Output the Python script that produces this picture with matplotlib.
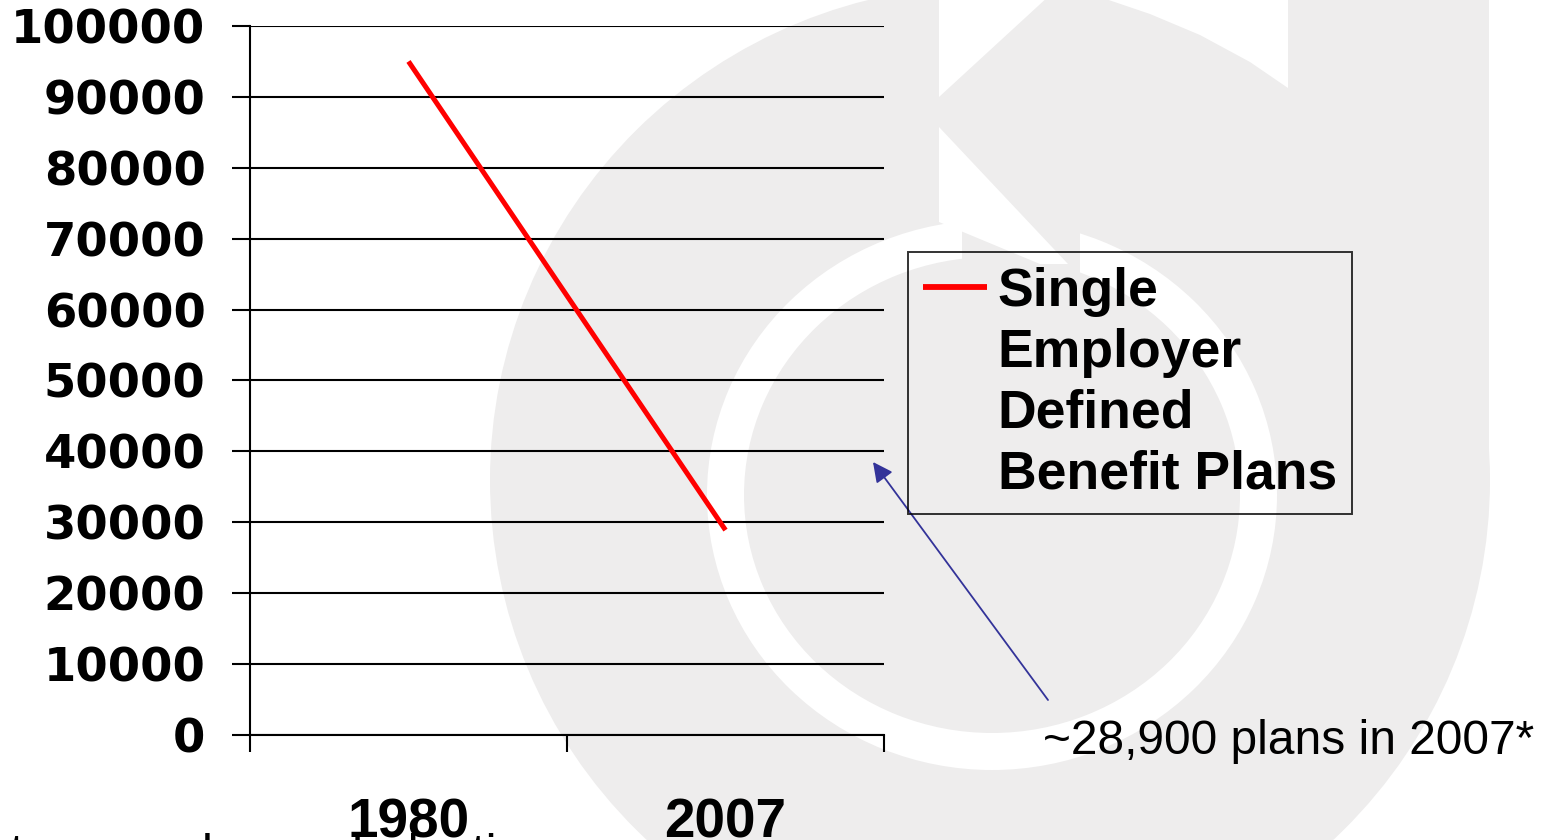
import numpy as np
import matplotlib
matplotlib.use('Agg')
import matplotlib.pyplot as plt
from matplotlib import patches
from matplotlib.lines import Line2D

# data
years = ['1980', '2007']
plans = [95000, 28900]
legend_lines = ['Single', 'Employer', 'Defined', 'Benefit Plans']
yticks = np.arange(0, 100001, 10000)
note = '~28,900 plans in 2007*'
footer = 'to use a lower deduction'

W, H = 1556, 840
fig = plt.figure(figsize=(W / 100, H / 100), dpi=100)

# grey logo watermark behind the chart (pixel coords, y down)
bg = fig.add_axes([0, 0, 1, 1], zorder=0)
bg.set_xlim(0, W)
bg.set_ylim(H, 0)
bg.axis('off')
grey = '#eeeded'
bg.add_patch(patches.Ellipse((990, 480), 1000, 990, color=grey, lw=0))
bg.add_patch(patches.Rectangle((990, -10), 499, 490, color=grey, lw=0))
bg.add_patch(patches.Annulus((992, 495), (285, 275), 37, color='white', lw=0))
bg.add_patch(patches.Polygon([(962, 195), (1080, 195), (1080, 300), (962, 300)], color=grey, lw=0))
bg.add_patch(patches.Polygon([(939, 127), (1068, 264), (1040, 264), (939, 222)], color='white', lw=0))
bg.add_patch(patches.Polygon([(939, -5), (1050, -5), (939, 97)], color='white', lw=0))
bg.add_patch(patches.Polygon([(1094, -5), (1288, -5), (1288, 88), (1250, 62),
                              (1200, 35), (1150, 14)], color='white', lw=0))

# main chart
ax = fig.add_axes([250 / W, 1 - 735 / H, (884 - 250) / W, (735 - 26) / H], zorder=2)
ax.patch.set_alpha(0)
x = np.arange(len(years))
line, = ax.plot(x, plans, color='red', lw=3.6, solid_capstyle='butt', zorder=3)

ax.set_xlim(-0.5, len(years) - 0.5)
ax.set_ylim(0, 100000)
ax.set_yticks(yticks)
ax.set_yticklabels([str(v) for v in yticks])
ax.yaxis.grid(True, color='black', lw=1.5)
ax.set_axisbelow(True)

ax.set_xticks(np.arange(len(years) + 1) - 0.5)
ax.set_xticklabels([])
ax.set_xticks(x, minor=True)
ax.set_xticklabels(years, minor=True)
ax.tick_params(axis='x', which='major', direction='out', length=12.5, width=1.5)
ax.tick_params(axis='x', which='minor', length=0, pad=45)
ax.tick_params(axis='y', direction='out', length=13, width=1.5, pad=19)
for lab in ax.get_yticklabels():
    lab.set(fontfamily='DejaVu Sans', fontweight='bold', fontsize=33.5)
for lab in ax.get_xticklabels(minor=True):
    lab.set(fontfamily='Liberation Sans', fontweight='bold', fontsize=39.5)

for s in ['top', 'right']:
    ax.spines[s].set_visible(False)
for s in ['left', 'bottom']:
    ax.spines[s].set_linewidth(1.5)
    ax.spines[s].set_color('black')

# legend: one red handle, label wrapped over four rows
blank = [Line2D([], [], color='none') for _ in legend_lines[1:]]
leg = ax.legend([line] + blank, legend_lines, loc='upper left',
                bbox_to_anchor=(908 / W, 1 - 252 / H), bbox_transform=fig.transFigure,
                borderaxespad=0, frameon=True, fancybox=False,
                prop=dict(family='Liberation Sans', weight='bold', size=38.5),
                handlelength=1.2, handletextpad=0.2, labelspacing=0.2, borderpad=0.28)
leg.get_frame().set_facecolor('none')
leg.get_frame().set_edgecolor('black')
leg.get_frame().set_linewidth(1.4)
leg.get_lines()[0].set_linewidth(4.2)

# arrow and note
ax.annotate('', xy=(873 / W, 1 - 462 / H), xytext=(1048 / W, 1 - 700 / H),
            xycoords='figure fraction', textcoords='figure fraction',
            arrowprops=dict(arrowstyle='-|>,head_length=0.6,head_width=0.3',
                            color='#333399', lw=1.3, mutation_scale=20,
                            shrinkA=0, shrinkB=0))
fig.text(1043 / W, 1 - 742 / H, note, fontsize=34.5, family='Liberation Sans', va='center')

# footer line that is cut off by the bottom edge (only its tall glyph tops show)
fig.text(10 / W, 1 - 869 / H, footer, fontsize=36, family='Liberation Sans', va='baseline')

fig.savefig('out.png', dpi=100)
